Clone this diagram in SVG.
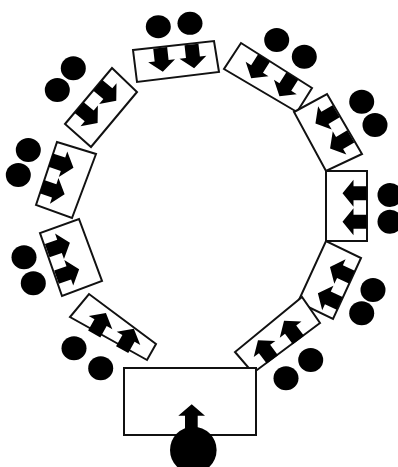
<svg xmlns="http://www.w3.org/2000/svg" xmlns:xlink="http://www.w3.org/1999/xlink" width="398" height="467" viewBox="0 0 398 467">
<style>
.box{fill:#fff;stroke:#111;stroke-width:2;stroke-linejoin:miter}
.dot{fill:#000}
.arr{fill:#000}
</style>
<defs>
<path id="ar" class="arr" d="M-7,0 L7,0 L7,13 L13.5,13 L0,24 L-13.5,13 L-7,13 Z"/>
</defs>
<rect width="398" height="467" fill="#fff"/>

<g id="b1">
<polygon class="box" points="133,50 214,41 219,72 137,82"/>
<g transform="translate(175.75,61.25) rotate(-6.3)"><use xlink:href="#ar" x="-14" y="-15"/><use xlink:href="#ar" x="17.5" y="-15"/></g>
<ellipse class="dot" cx="158.3" cy="26.7" rx="12.5" ry="11.5"/><ellipse class="dot" cx="190" cy="23.3" rx="12.5" ry="11.5"/>
</g>

<g id="b2">
<polygon class="box" points="241,43 312,88 297,112 224,69"/>
<g transform="translate(268.5,78) rotate(32.4)"><use xlink:href="#ar" x="-14.5" y="-14.5"/><use xlink:href="#ar" x="19" y="-14.5"/></g>
<ellipse class="dot" cx="276.7" cy="40" rx="12.5" ry="12"/><ellipse class="dot" cx="304.3" cy="56.7" rx="12.5" ry="12"/>
</g>

<g id="b3">
<polygon class="box" points="327,94 362,154 326,171 294,112"/>
<g transform="translate(327.25,132.75) rotate(59.7)"><use xlink:href="#ar" x="-14" y="-18.5"/><use xlink:href="#ar" x="15" y="-18.5"/></g>
<ellipse class="dot" cx="361.7" cy="101.7" rx="12.5" ry="12"/><ellipse class="dot" cx="375" cy="125" rx="12.5" ry="12"/>
</g>

<g id="b4">
<polygon class="box" points="367,171 367,241 326,241 326,171"/>
<g transform="translate(346.5,206) rotate(90)"><use xlink:href="#ar" x="-12.7" y="-20"/><use xlink:href="#ar" x="15.7" y="-20"/></g>
<ellipse class="dot" cx="390" cy="195" rx="12.5" ry="12"/><ellipse class="dot" cx="390" cy="221.7" rx="12.5" ry="12"/>
</g>

<g id="b5">
<polygon class="box" points="361,258 333,319 298,302 326,241"/>
<g transform="translate(329.5,280) rotate(114.7)"><use xlink:href="#ar" x="-12" y="-19"/><use xlink:href="#ar" x="17" y="-19"/></g>
<ellipse class="dot" cx="373" cy="290" rx="12.5" ry="12"/><ellipse class="dot" cx="361.7" cy="313.3" rx="12.5" ry="12"/>
</g>

<g id="b6">
<polygon class="box" points="320,323 253,373 235,352 302,297"/>
<g transform="translate(277.5,336.25) rotate(143.3)"><use xlink:href="#ar" x="-14.5" y="-15.5"/><use xlink:href="#ar" x="18" y="-15.5"/></g>
<ellipse class="dot" cx="310.7" cy="360" rx="12.5" ry="12"/><ellipse class="dot" cx="286" cy="378.3" rx="12.5" ry="12"/>
</g>

<g id="b8">
<polygon class="box" points="147,360 70,317 89,294 156,344"/>
<g transform="translate(115.5,328.75) rotate(209.2)"><use xlink:href="#ar" x="-16" y="-15"/><use xlink:href="#ar" x="16" y="-15"/></g>
<ellipse class="dot" cx="74" cy="348.3" rx="12.5" ry="12"/><ellipse class="dot" cx="100.7" cy="368.3" rx="12.5" ry="12"/>
</g>

<g id="b9">
<polygon class="box" points="62,296 40,233 79,219 102,281"/>
<g transform="translate(70.75,257.25) rotate(250.7)"><use xlink:href="#ar" x="-14" y="-20"/><use xlink:href="#ar" x="14" y="-20"/></g>
<ellipse class="dot" cx="24" cy="257.3" rx="12.5" ry="12"/><ellipse class="dot" cx="33.3" cy="283.3" rx="12.5" ry="12"/>
</g>

<g id="b10">
<polygon class="box" points="36,205 57,142 96,154 72,218"/>
<g transform="translate(65.25,179.75) rotate(-71.6)"><use xlink:href="#ar" x="-14" y="-20"/><use xlink:href="#ar" x="14" y="-20"/></g>
<ellipse class="dot" cx="28.3" cy="150" rx="12.5" ry="12"/><ellipse class="dot" cx="18.3" cy="175" rx="12.5" ry="12"/>
</g>

<g id="b11">
<polygon class="box" points="65,124 112,68 137,92 91,147"/>
<g transform="translate(101.25,107.75) rotate(-50)"><use xlink:href="#ar" x="-14" y="-17"/><use xlink:href="#ar" x="15" y="-17"/></g>
<ellipse class="dot" cx="73.3" cy="68.3" rx="12.5" ry="12"/><ellipse class="dot" cx="57.3" cy="90" rx="12.5" ry="12"/>
</g>

<g id="base">
<rect class="box" x="124" y="368" width="132" height="67"/>
<path class="arr" d="M185,415.7 L178.3,415.7 L191.7,404.3 L205,415.7 L197.7,415.7 L197.7,430 L185,430 Z"/>
<circle class="dot" cx="193.3" cy="450" r="23.3"/>
</g>
</svg>
